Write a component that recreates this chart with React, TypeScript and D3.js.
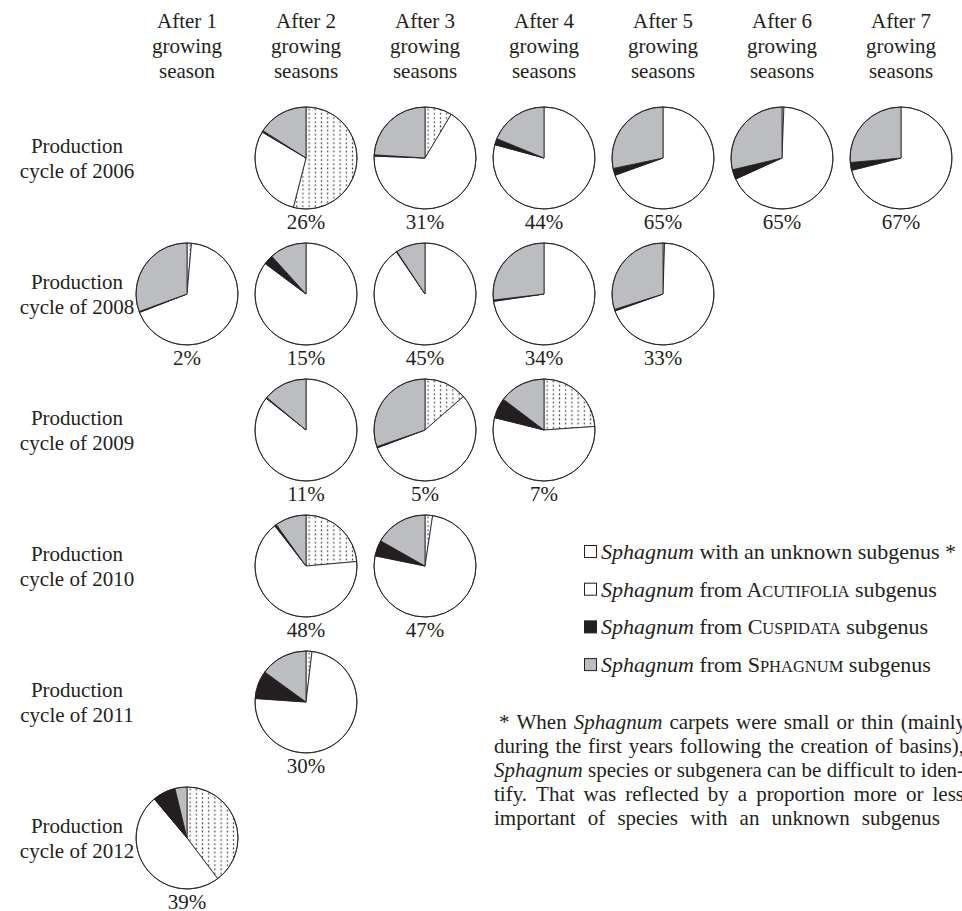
import React, { useLayoutEffect, useRef } from "react";
import * as d3 from "d3";

// ---------- data ----------
const rowYears = ["2006", "2008", "2009", "2010", "2011", "2012"];
const headerLine1 = ["After 1", "After 2", "After 3", "After 4", "After 5", "After 6", "After 7"];
const headerLine2 = ["growing", "growing", "growing", "growing", "growing", "growing", "growing"];
const headerLine3 = ["season", "seasons", "seasons", "seasons", "seasons", "seasons", "seasons"];

// one entry per pie
const pieRow = [0, 0, 0, 0, 0, 0, 1, 1, 1, 1, 1, 2, 2, 2, 3, 3, 4, 5];
const pieCol = [1, 2, 3, 4, 5, 6, 0, 1, 2, 3, 4, 1, 2, 3, 1, 2, 1, 0];
const unknownPct = [54, 8.6, 0, 0, 0.6, 0, 1.4, 0, 0, 0, 0.5, 0, 13.6, 23.9, 23.6, 2.4, 1.9, 39.7];
const acutifoliaPct = [29.5, 67, 79.2, 69.5, 67.6, 71.1, 67.7, 85.2, 90.5, 72.7, 69.1, 85.7, 55.7, 55, 65.9, 75.8, 74.2, 49.2];
const cuspidataPct = [0.5, 0.4, 2, 2.2, 3.1, 2.5, 0.3, 3.1, 0.2, 0.4, 0.5, 0.3, 0.4, 6.4, 0.6, 5, 8.9, 7.3];
const sphagnumPct = [16, 24, 18.8, 28.3, 28.7, 26.4, 30.6, 11.7, 9.3, 26.9, 29.9, 14, 30.3, 14.7, 9.9, 16.8, 15, 3.8];
const coverLabels = ["26%", "31%", "44%", "65%", "65%", "67%", "2%", "15%", "45%", "34%", "33%", "11%", "5%", "7%", "48%", "47%", "30%", "39%"];

const seriesKeys = ["unknown", "acutifolia", "cuspidata", "sphagnum"];

// legend: [italic part, rest, smallcap initial, smallcap rest, tail]
const legendItems = [
  ["Sphagnum", " with an unknown subgenus *", "", "", ""],
  ["Sphagnum", " from ", "A", "CUTIFOLIA", " subgenus"],
  ["Sphagnum", " from ", "C", "USPIDATA", " subgenus"],
  ["Sphagnum", " from ", "S", "PHAGNUM", " subgenus"],
];

// footnote lines; words starting with "_" are italic
const footnoteLines = [
  ["*", "When", "_Sphagnum", "carpets", "were", "small", "or", "thin", "(mainly"],
  ["during", "the", "first", "years", "following", "the", "creation", "of", "basins),"],
  ["_Sphagnum", "species", "or", "subgenera", "can", "be", "difficult", "to", "iden-"],
  ["tify.", "That", "was", "reflected", "by", "a", "proportion", "more", "or", "less"],
  ["important", "of", "species", "with", "an", "unknown", "subgenus"],
];

// ---------- style ----------
const FONT = "'Liberation Serif', 'Times New Roman', Times, serif";
const INK = "#231f20";
const GRAY = "#bcbdc0";
const FS = 21;
const LFS = 22;

const colX = d3.scaleLinear().domain([0, 6]).range([187, 901]);
const rowY = d3.scaleLinear().domain([0, 5]).range([158, 838]);
const R = 51;

const footLeft = [499, 494, 494, 494, 494];
const footRight = [966, 964, 964, 964, 940];
const footBase = [729, 753, 777, 801, 825];

export default function App() {
  const footRef = useRef<SVGGElement>(null);

  useLayoutEffect(() => {
    if (!footRef.current) return;
    d3.select(footRef.current)
      .selectAll<SVGGElement, unknown>("g.fline")
      .each(function (_, li) {
        const texts = d3.select(this).selectAll<SVGTextElement, unknown>("text").nodes();
        const widths = texts.map((t) => t.getComputedTextLength());
        const total = d3.sum(widths);
        const gap = (footRight[li] - footLeft[li] - total) / (texts.length - 1);
        let x = footLeft[li];
        texts.forEach((t, k) => {
          t.setAttribute("x", String(x));
          x += widths[k] + gap;
        });
      });
  }, []);

  const pie = d3.pie<number>().sort(null).value((d) => d).startAngle(0).endAngle(2 * Math.PI);
  const arc = d3.arc<d3.PieArcDatum<number>>().innerRadius(0).outerRadius(R);
  const fills = ["url(#dots)", "#ffffff", INK, GRAY];

  return (
    <svg
      width={962}
      height={911}
      style={{ position: "absolute", left: 0, top: 0, background: "#fff" }}
      fontFamily={FONT}
    >
      <defs>
        <pattern id="dots" width={6.2} height={4.2} patternUnits="userSpaceOnUse">
          <rect width={6.2} height={4.2} fill="#fff" />
          <rect x={2.5} y={1.2} width={1.2} height={1.6} fill="#333" />
        </pattern>
      </defs>
      <rect width={962} height={911} fill="#fff" />

      {/* column headers */}
      {headerLine1.map((h, i) => (
        <text key={"h" + i} x={colX(i)} textAnchor="middle" fontSize={FS} fill={INK}>
          <tspan x={colX(i)} y={28}>{h}</tspan>
          <tspan x={colX(i)} y={53}>{headerLine2[i]}</tspan>
          <tspan x={colX(i)} y={78}>{headerLine3[i]}</tspan>
        </text>
      ))}

      {/* row labels */}
      {rowYears.map((yr, i) => (
        <text key={"r" + i} textAnchor="middle" fontSize={FS} fill={INK}>
          <tspan x={77} y={rowY(i) - 5}>Production</tspan>
          <tspan x={77} y={rowY(i) + 20}>{"cycle of " + yr}</tspan>
        </text>
      ))}

      {/* pies */}
      {pieRow.map((r, i) => {
        const vals = [unknownPct[i], acutifoliaPct[i], cuspidataPct[i], sphagnumPct[i]];
        const arcs = pie(vals);
        const cx = colX(pieCol[i]);
        const cy = rowY(r);
        return (
          <g key={"p" + i} transform={`translate(${cx},${cy})`}>
            {arcs.map((a, j) =>
              a.value > 0 ? (
                <path
                  key={seriesKeys[j]}
                  d={arc(a) || ""}
                  fill={fills[j]}
                  stroke={INK}
                  strokeWidth={0.85}
                  strokeLinejoin="round"
                />
              ) : null
            )}
            <circle r={R} fill="none" stroke={INK} strokeWidth={0.85} />
            <text y={R + 20} textAnchor="middle" fontSize={FS} fill={INK}>
              {coverLabels[i]}
            </text>
          </g>
        );
      })}

      {/* legend */}
      {legendItems.map((it, i) => {
        const base = 559 + i * 37.7;
        return (
          <g key={"l" + i}>
            <rect
              x={584.5}
              y={base - 13.5}
              width={12}
              height={12}
              fill={i === 2 ? INK : i === 3 ? GRAY : "#fff"}
              stroke={INK}
              strokeWidth={1}
            />
            <text x={601} y={base} fontSize={LFS} fill={INK}>
              <tspan fontStyle="italic">{it[0]}</tspan>
              <tspan>{it[1]}</tspan>
              {it[2] ? <tspan>{it[2]}</tspan> : null}
              {it[3] ? <tspan fontSize={16.5}>{it[3]}</tspan> : null}
              {it[4] ? <tspan>{it[4]}</tspan> : null}
            </text>
          </g>
        );
      })}

      {/* footnote, justified */}
      <g ref={footRef}>
        {footnoteLines.map((words, li) => (
          <g key={"f" + li} className="fline">
            {words.map((w, k) => {
              const italic = w.startsWith("_");
              const t = italic ? w.slice(1) : w;
              return (
                <text
                  key={k}
                  x={footLeft[li] + k * 45}
                  y={footBase[li]}
                  fontSize={FS}
                  fill={INK}
                  fontStyle={italic ? "italic" : "normal"}
                >
                  {t}
                </text>
              );
            })}
          </g>
        ))}
      </g>
    </svg>
  );
}
